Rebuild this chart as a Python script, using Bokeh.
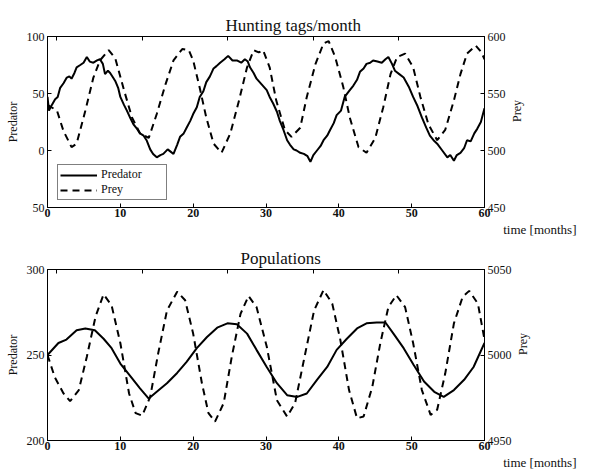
import math
from bokeh.plotting import figure
from bokeh.models import Range1d, LinearAxis, Legend, LegendItem, Title, FixedTicker
from bokeh.layouts import column
from bokeh.embed import file_html
from bokeh.resources import INLINE

# ---- Top panel: Hunting tags/month ----
hunt_pred_t = [0, 0.2, 0.6, 1.05, 1.4, 1.74, 2.2, 2.65, 3.0, 3.3, 3.7, 4.0, 4.5, 4.95, 5.4, 5.8, 6.3, 6.8, 7.2, 7.6, 7.9,
               8.3, 8.6, 9.0, 9.3, 9.7, 10.0, 10.5, 10.9, 11.4, 11.8, 12.3, 12.7, 13.2, 13.6, 14.1, 14.5, 15.0, 15.5, 15.9,
               16.5, 16.9, 17.3, 17.8, 18.2, 18.7, 19.1, 19.6, 20.0, 20.5, 20.9, 21.4, 21.8, 22.3, 22.8, 23.2, 23.7, 24.3,
               24.8, 25.4, 26.0, 26.6, 27.1, 27.5, 27.8, 28.3, 28.7, 29.4, 30.1, 30.5, 31.0, 31.5, 31.9, 32.4, 32.9, 33.3,
               33.8, 34.2, 34.7, 35.2, 35.7, 36.1, 36.5, 37.0, 37.5, 37.9, 38.4, 38.8, 39.3, 39.7, 40.3, 40.8, 41.4, 42.0,
               42.5, 42.9, 43.4, 43.8, 44.3, 44.7, 45.3, 45.9, 46.4, 46.8, 47.3, 47.7, 48.3, 48.9, 49.6, 50.2, 50.8, 51.4,
               52.0, 52.5, 53.0, 53.5, 54.2, 54.9, 55.3, 55.8, 56.2, 56.7, 57.2, 57.6, 58.1, 58.6, 59.0, 59.5, 60.0]
hunt_pred = [47, 35, 40, 45, 47, 55, 59, 64, 65, 63, 68, 73, 75, 77, 82, 78, 77, 79, 80, 76, 67,
             70, 68, 64, 61, 55, 47, 40, 35, 28, 23, 19, 15, 13, 9, 1, -3, -6, -4, -3,
             1, -1, -3, 5, 12, 15, 20, 26, 32, 38, 47, 52, 60, 65, 72, 74, 77, 80,
             83, 79, 79, 77, 80, 78, 73, 68, 63, 58, 53, 47, 41, 34, 26, 18, 9, 5,
             1, 0, -2, -3, -5, -10, -4, 0, 4, 9, 13, 18, 24, 31, 35, 47, 52, 57,
             62, 69, 72, 76, 77, 79, 78, 77, 80, 82, 76, 70, 67, 64, 56, 47, 39, 29,
             20, 13, 9, 6, 0, -6, -4, -9, -4, -2, 2, 9, 8, 15, 19, 25, 37]

hunt_prey_t = [0, 1.3, 2.2, 3.3, 4.0, 5.2, 6.3, 7.2, 8.4, 9.3, 10.5, 11.6, 12.7, 13.9, 15.0, 16.2, 17.3, 18.5, 19.4, 20.0,
               20.9, 21.8, 22.8, 23.9, 25.1, 26.3, 27.4, 28.3, 29.0, 29.6, 30.5, 31.4, 32.6, 33.5, 34.7, 35.6, 36.8, 37.9,
               38.6, 39.5, 40.6, 41.5, 42.7, 43.8, 45.0, 46.1, 47.1, 48.0, 49.1, 50.2, 51.2, 52.3, 53.5, 54.6, 55.8, 56.7,
               57.6, 58.8, 59.6, 60.0]
hunt_prey = [540, 535, 517, 503, 506, 535, 564, 579, 588, 581, 553, 529, 515, 511, 532, 558, 579, 589, 588, 579,
             555, 529, 506, 498, 515, 544, 573, 588, 586, 588, 573, 544, 518, 512, 520, 547, 576, 594,
             596, 582, 556, 529, 503, 498, 511, 538, 567, 582, 585, 573, 547, 523, 509, 518, 544, 567,
             585, 592, 586, 580]

# ---- Bottom panel: Populations ----
pop_pred_t = [0, 1.5, 2.6, 4.0, 5.2, 6.5, 7.7, 8.8, 10.0, 11.4, 12.7, 13.9, 15.0, 16.4, 17.8, 19.1, 20.5, 21.9, 23.3,
              24.7, 26.0, 27.4, 28.7, 30.1, 31.5, 32.9, 34.3, 35.6, 37.0, 38.4, 39.7, 41.1, 42.5, 43.8, 45.2, 46.4,
              47.5, 48.9, 50.3, 51.7, 53.1, 54.4, 55.8, 57.2, 58.5, 60.0]
pop_pred = [250, 257, 259, 264.5, 265.5, 264.5, 259.5, 254, 245, 237.5, 230.5, 224.5, 228.5, 233.5, 239.5, 246, 254,
            260.5, 266, 268.5, 268, 262.5, 253, 243, 233.5, 226.5, 225.5, 227.5, 235.5, 243, 253, 259.5, 265.5,
            268.5, 269, 269, 262.5, 254, 244, 234.5, 228.5, 225.5, 229.5, 235.5, 243, 257]

pop_prey_t = [0, 1.0, 2.2, 3.1, 4.3, 5.4, 6.6, 7.7, 8.8, 10.0, 11.2, 12.1, 13.0, 14.1, 15.2, 16.4, 17.8, 18.9, 20.0,
              21.2, 22.1, 23.0, 24.2, 25.3, 26.5, 27.6, 28.7, 30.1, 31.5, 32.9, 34.0, 35.2, 36.6, 37.9, 39.1, 40.2,
              41.4, 42.5, 43.4, 44.6, 45.7, 46.8, 47.9, 49.1, 50.2, 51.4, 52.6, 53.5, 54.6, 55.8, 57.0, 57.9, 59.1, 60.0]
pop_prey = [5000, 4987, 4977.5, 4973, 4979.5, 4999, 5022.5, 5035.5, 5029, 5007, 4977.5, 4966, 4964.5, 4975.5, 5001,
            5026, 5037, 5032, 5012.5, 4983.5, 4966, 4961, 4972, 4999, 5024, 5034.5, 5028, 5005, 4973.5, 4964, 4972,
            4997, 5026, 5038, 5030, 5009, 4979.5, 4963, 4964, 4981.5, 5007, 5028, 5035, 5028, 5007, 4979.5, 4965,
            4968, 4989, 5018.5, 5034, 5037.5, 5030, 5009]

x_ticks = [0, 10, 20, 30, 40, 50, 60]
top_ticks = [1.3, 13.04, 24.78, 36.52, 48.26, 60]
FONT = "Liberation Serif"


def style_axis(ax, ticks, bold=False, overrides=None):
    ax.ticker = FixedTicker(ticks=ticks)
    ax.major_tick_in = 4
    ax.major_tick_out = 0
    ax.minor_tick_line_color = None
    ax.axis_line_color = "black"
    ax.major_tick_line_color = "black"
    ax.major_label_text_font = FONT
    ax.major_label_text_font_size = "12px"
    ax.major_label_text_color = "#111111"
    ax.major_label_standoff = 3
    ax.axis_label_text_font = FONT
    ax.axis_label_text_font_size = "12px"
    ax.axis_label_text_font_style = "normal"
    ax.axis_label_text_color = "#111111"
    ax.axis_label_standoff = 4
    if bold:
        ax.major_label_text_font_style = "bold"
    if overrides:
        ax.major_label_overrides = overrides


def panel(title, title_offset, pt, pv, qt, qv, yl, yr, yl_ticks, yr_ticks, btop, bbottom,
          overrides=None, legend=False):
    p = figure(frame_width=437, frame_height=171, x_range=Range1d(0, 60), y_range=Range1d(*yl),
               output_backend="svg", toolbar_location=None,
               min_border_left=47, min_border_right=100, min_border_top=btop, min_border_bottom=bbottom)
    p.title = Title(text=title, text_font=FONT, text_font_size="17px", text_font_style="normal",
                    text_color="#111111", align="left", offset=title_offset, standoff=4)
    p.extra_y_ranges = {"prey": Range1d(*yr)}
    p.grid.visible = False
    p.outline_line_color = "black"
    p.outline_line_alpha = 1
    p.background_fill_color = "white"
    p.border_fill_color = "white"

    style_axis(p.xaxis[0], x_ticks, bold=True)
    p.xaxis[0].major_label_standoff = 1
    style_axis(p.yaxis[0], yl_ticks, overrides=overrides)
    p.yaxis[0].axis_label = "Predator"

    ra = LinearAxis(y_range_name="prey", axis_label="Prey")
    style_axis(ra, yr_ticks)
    ra.axis_label_orientation = math.pi / 2
    ra.axis_label_standoff = 8
    p.add_layout(ra, "right")

    ta = LinearAxis()
    style_axis(ta, top_ticks, overrides={t: "" for t in top_ticks})
    ta.major_label_standoff = 0
    p.add_layout(ta, "above")

    p.add_layout(Title(text="time [months]", text_font=FONT, text_font_size="13px", text_font_style="normal",
                       text_color="#111111", align="right", offset=-92, standoff=0), "below")

    r1 = p.line(pt, pv, line_color="black", line_width=2)
    r2 = p.line(qt, qv, line_color="black", line_width=2, line_dash="7 5", y_range_name="prey")

    if legend:
        lg = Legend(items=[LegendItem(label="Predator", renderers=[r1]),
                           LegendItem(label="Prey", renderers=[r2])],
                    location=(10, 7), padding=2, spacing=0, margin=0,
                    label_height=10, glyph_height=12, glyph_width=37, label_standoff=4, label_width=63,
                    label_text_font=FONT, label_text_font_size="12px", label_text_color="#111111",
                    border_line_color="black", border_line_width=1, background_fill_alpha=1)
        p.add_layout(lg, "center")
    return p


p1 = panel("Hunting tags/month", 178, hunt_pred_t, hunt_pred, hunt_prey_t, hunt_prey,
           (-50, 100), (450, 600), [-50, 0, 50, 100], [450, 500, 550, 600], 36, 29,
           overrides={-50: "50"}, legend=True)
p2 = panel("Populations", 193, pop_pred_t, pop_pred, pop_prey_t, pop_prey,
           (200, 300), (4950, 5050), [200, 250, 300], [4950, 5000, 5050], 33, 29)

layout = column(p1, p2, spacing=0)
open("out.html", "w").write(file_html(layout, INLINE))
